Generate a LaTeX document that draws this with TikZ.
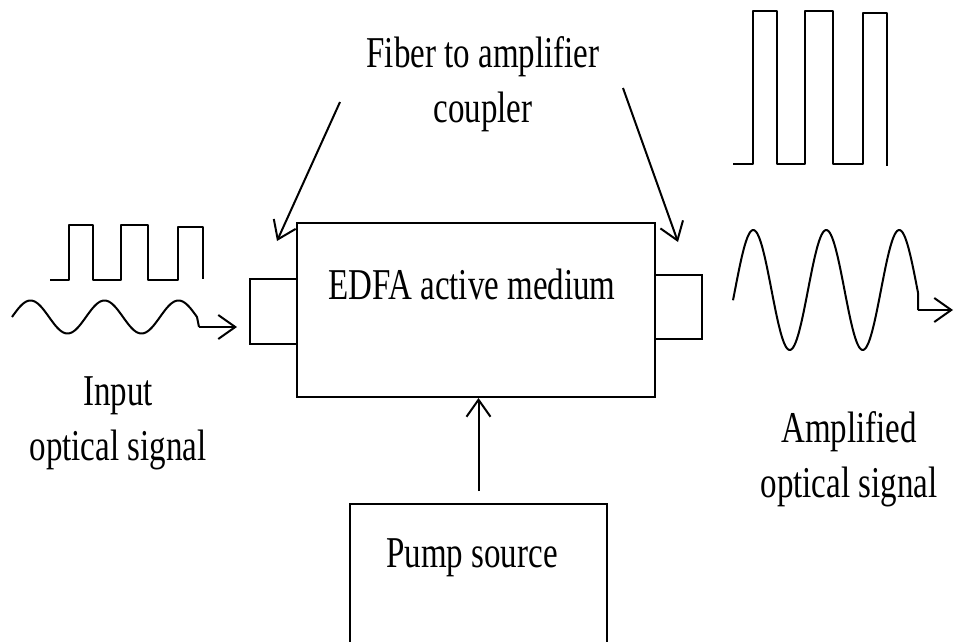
\documentclass[tikz,border=0pt]{standalone}
\usepackage{fontspec}
\setmainfont{Liberation Serif}[FakeStretch=0.75]
\usetikzlibrary{arrows.meta,calc}
\begin{document}
\begin{tikzpicture}[x=1pt,y=-1pt,
  line width=2pt,
  box/.style={draw, line width=2pt, inner sep=0pt},
  lbl/.style={font=\fontsize{44}{55}\selectfont, inner sep=0pt, align=center, anchor=base},
  arr/.style={-{Straight Barb[length=17pt,width=24pt]}},
  wave/.style={line width=2pt, line join=round}]
\useasboundingbox (0,0) rectangle (954,642);
\clip (0,0) rectangle (954,642);
% boxes
\node[box, minimum width=358pt, minimum height=174pt] (main) at (476,310) {};
\node[box, minimum width=47pt, minimum height=65pt] (lcoup) at (273.5,311.5) {};
\node[box, minimum width=47pt, minimum height=64pt] (rcoup) at (678.5,307) {};
\node[box, minimum width=257pt, minimum height=160pt] (pump) at (478.5,584) {};
% labels (base anchor = baseline of last line)
\node[lbl] (edfa) at (472,299) {EDFA active medium};
\node[lbl] (pumptxt) at (472,567) {Pump source};
\node[lbl] (fiber) at (483,123) {Fiber to amplifier\\coupler};
\node[lbl] (input) at (118,460) {Input\\optical signal};
\node[lbl] (ampl) at (849,497) {Amplified\\optical signal};
% coupler arrows
\coordinate (c1) at (340,102);
\coordinate (c2) at (623,88);
\draw[arr] (c1) -- ($(main.north west)+(-19,19)$);
\draw[arr] (c2) -- ($(main.north east)+(22,20)$);
% pump arrow
\draw[arr] ($(pump.north)+(0,-12)$) -- (pump.north |- main.south);
% input signals
\draw[wave] (50,280) -- (69,280) -- (69,225) -- (93,225) -- (93,280) -- (121,280) -- (121,225)
  -- (148,225) -- (148,280) -- (178,280) -- (178,227) -- (203,227) -- (203,279);
\draw[wave] plot[domain=12:197, samples=120, smooth] (\x, {317-16.5*sin(4.865*(\x-12))})
  -- (199,327) coordinate (inStart);
\draw[arr] (inStart) -- ($(lcoup.west)+(-12,15.5)$);
% output signals
\draw[wave] (733,164) -- (753,164) -- (753,11) -- (777,11) -- (777,164) -- (805,164) -- (805,11)
  -- (833,11) -- (833,164) -- (863,164) -- (863,13) -- (887,13) -- (887,166);
\draw[wave] plot[domain=733:918, samples=160, smooth] (\x, {290-60*sin(4.932*(\x-735))})
  -- (918,310) coordinate (outStart);
\coordinate (outEnd) at (953,310);
\draw[arr] (outStart) -- (outEnd);
\end{tikzpicture}
\end{document}
